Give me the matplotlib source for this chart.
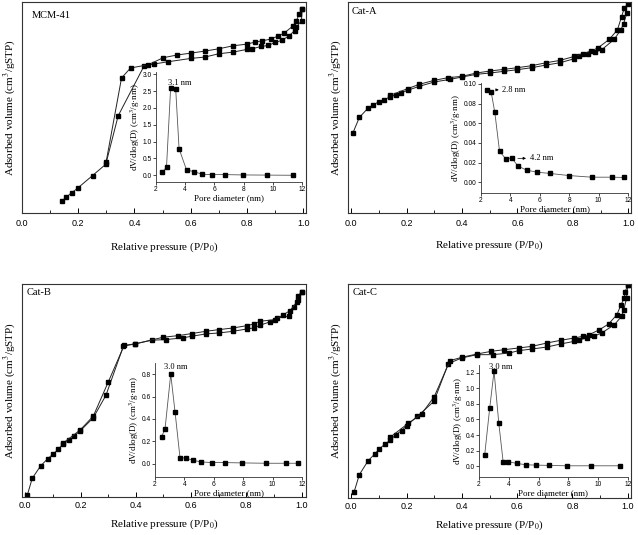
import matplotlib.pyplot as plt
from matplotlib.ticker import MultipleLocator

plt.rcParams['font.family'] = ['Liberation Serif', 'DejaVu Serif']
plt.rcParams['mathtext.fontset'] = 'stix'

# ---------------- data (arbitrary volume units) ----------------
# MCM-41
mcm_ads_p = [0.141, 0.156, 0.177, 0.198, 0.251, 0.298, 0.342, 0.434, 0.469, 0.520, 0.601, 0.650,
             0.700, 0.751, 0.799, 0.819, 0.850, 0.876, 0.899, 0.923, 0.948, 0.970, 0.976, 0.994, 0.996]
mcm_ads_v = [135, 147, 161, 175, 213, 247, 393, 543, 549, 556, 566, 570,
             580, 585, 593, 595, 602, 605, 614, 620, 633, 650, 660, 680, 715]
mcm_des_p = [0.996, 0.986, 0.976, 0.964, 0.932, 0.909, 0.884, 0.854, 0.828, 0.799, 0.751, 0.700,
             0.650, 0.601, 0.550, 0.502, 0.449, 0.386, 0.354, 0.299]
mcm_des_v = [715, 700, 680, 664, 642, 633, 624, 619, 615, 609, 604, 595,
             588, 582, 576, 568, 547, 537, 507, 253]
mcm_d = [2.42, 2.72, 3.00, 3.35, 3.58, 4.09, 4.58, 5.16, 5.85, 6.71, 7.94, 9.61, 11.36]
mcm_dv = [0.09, 0.24, 2.58, 2.56, 0.79, 0.16, 0.11, 0.03, 0.02, 0.02, 0.01, 0.005, 0.0]

# Cat-A
a_ads_p = [0.006, 0.029, 0.059, 0.077, 0.099, 0.119, 0.141, 0.162, 0.181, 0.204, 0.246, 0.300, 0.358,
           0.400, 0.452, 0.501, 0.551, 0.600, 0.651, 0.704, 0.754, 0.805, 0.823, 0.855, 0.879, 0.904,
           0.949, 0.973, 0.983, 0.995]
a_ads_v = [342, 388, 415, 425, 435, 442, 450, 457, 463, 470, 482, 495, 503,
           510, 518, 522, 527, 532, 538, 546, 553, 565, 572, 580, 585, 592,
           623, 652, 670, 702]
a_des_p = [0.998, 0.986, 0.976, 0.961, 0.931, 0.891, 0.865, 0.835, 0.805, 0.754, 0.704, 0.651,
           0.600, 0.551, 0.501, 0.452, 0.400, 0.350, 0.300, 0.246, 0.204, 0.141]
a_des_v = [730, 718, 692, 652, 623, 598, 588, 580, 572, 560, 553, 544,
           538, 533, 528, 522, 512, 508, 500, 488, 475, 455]
a_d = [2.41, 2.69, 2.94, 3.26, 3.67, 4.09, 4.52, 5.10, 5.81, 6.70, 7.96, 9.52, 10.94, 11.75]
a_dv = [0.0939, 0.092, 0.071, 0.0317, 0.0239, 0.0246, 0.0164, 0.0123, 0.0102, 0.0089, 0.0068,
        0.0051, 0.0051, 0.0048]

# Cat-B
b_ads_p = [0.007, 0.025, 0.055, 0.081, 0.099, 0.119, 0.135, 0.158, 0.176, 0.198, 0.246, 0.292, 0.355,
           0.397, 0.457, 0.508, 0.569, 0.602, 0.654, 0.702, 0.753, 0.803, 0.828, 0.849, 0.885, 0.912,
           0.953, 0.973, 0.988, 1.000]
b_ads_v = [105, 156, 193, 215, 228, 243, 258, 271, 283, 298, 338, 406, 553,
           560, 571, 573, 578, 583, 590, 593, 598, 605, 608, 616, 626, 638,
           643, 670, 693, 716]
b_des_p = [1.000, 0.986, 0.982, 0.958, 0.931, 0.904, 0.849, 0.828, 0.803, 0.753, 0.702, 0.654,
           0.602, 0.554, 0.499, 0.397, 0.358, 0.300, 0.246, 0.198, 0.135]
b_des_v = [716, 703, 685, 660, 646, 633, 628, 620, 615, 608, 603, 598,
           591, 585, 580, 560, 556, 445, 343, 301, 261]
b_d = [2.45, 2.68, 3.07, 3.36, 3.70, 4.11, 4.57, 5.14, 5.86, 6.73, 7.95, 9.55, 10.93, 11.73]
b_dv = [0.242, 0.307, 0.80, 0.466, 0.054, 0.048, 0.030, 0.015, 0.009, 0.009, 0.006, 0.003, 0.003, 0.003]

# Cat-C
c_ads_p = [0.010, 0.029, 0.061, 0.086, 0.101, 0.122, 0.140, 0.161, 0.182, 0.200, 0.239, 0.299, 0.351,
           0.399, 0.455, 0.512, 0.572, 0.605, 0.654, 0.708, 0.757, 0.807, 0.825, 0.853, 0.877, 0.906,
           0.952, 0.978, 0.986, 0.996, 1.000]
c_ads_v = [118, 170, 212, 233, 247, 262, 273, 290, 302, 317, 345, 390, 503,
           520, 530, 530, 535, 542, 547, 553, 562, 570, 575, 580, 585, 595,
           620, 645, 665, 700, 738]
c_des_p = [1.000, 0.990, 0.988, 0.976, 0.961, 0.931, 0.898, 0.861, 0.837, 0.807, 0.757, 0.708,
           0.654, 0.605, 0.554, 0.506, 0.455, 0.399, 0.357, 0.300, 0.254, 0.206, 0.140]
c_des_v = [738, 718, 700, 680, 650, 622, 605, 590, 585, 580, 573, 565,
           555, 550, 545, 540, 532, 522, 512, 404, 352, 324, 282]
c_d = [2.38, 2.72, 3.01, 3.33, 3.62, 3.96, 4.56, 5.15, 5.80, 6.70, 7.89, 9.53, 11.48]
c_dv = [0.14, 0.75, 1.22, 0.55, 0.056, 0.056, 0.034, 0.017, 0.013, 0.009, 0.004, 0.004, 0.004]

W, H = 638, 535
fig = plt.figure(figsize=(W / 100, H / 100), dpi=100)


def box(l, t, r, b):
    # pixel box -> figure fraction
    return [l / W, 1 - b / H, (r - l) / W, (b - t) / H]


def panel(mbox, ibox, name, name_xy, ads_p, ads_v, des_p, des_v, xlim, ylim,
          d, dv, ilim, istep, ifmt, tickpad, xlabpad):
    ax = fig.add_axes(box(*mbox))
    for p, v in [(ads_p, ads_v), (des_p, des_v)]:
        ax.plot(p, v, '-s', color='#222222', lw=0.7, ms=3.5, mfc='k', mec='k')
    ax.set_xlim(*xlim)
    ax.set_ylim(*ylim)
    ax.xaxis.set_minor_locator(MultipleLocator(0.1))
    ax.set_xticks([0.0, 0.2, 0.4, 0.6, 0.8, 1.0])
    ax.set_xticklabels(['0.0', '0.2', '0.4', '0.6', '0.8', '1.0'], family='Liberation Sans')
    ax.tick_params(axis='x', which='major', direction='in', length=3.5, width=0.7,
                   labelsize=6.5, pad=tickpad)
    ax.tick_params(axis='x', which='minor', direction='in', length=2, width=0.6)
    ax.tick_params(axis='y', left=False, labelleft=False)
    for s in ax.spines.values():
        s.set_linewidth(0.8)
        s.set_color('#333333')
    ax.set_xlabel('Relative pressure (P/P$_0$)', fontsize=8, labelpad=xlabpad)
    ax.set_ylabel('Adsorbed volume (cm$^3$/gSTP)', fontsize=8, labelpad=3)
    ax.text(name_xy[0], name_xy[1], name, transform=ax.transAxes, fontsize=7.5,
            ha='left', va='center')

    ins = fig.add_axes(box(*ibox))
    ins.patch.set_alpha(0)
    ins.plot(d, dv, '-s', color='#555555', lw=0.6, ms=2.2, mfc='k', mec='k')
    ins.set_xlim(2, 12)
    ins.set_ylim(*ilim)
    ins.set_xticks([2, 4, 6, 8, 10, 12])
    ins.yaxis.set_major_locator(MultipleLocator(istep))
    ins.yaxis.set_major_formatter(ifmt)
    ins.spines['top'].set_visible(False)
    ins.spines['right'].set_visible(False)
    for s in ['left', 'bottom']:
        ins.spines[s].set_linewidth(0.6)
        ins.spines[s].set_color('#333333')
    ins.tick_params(direction='out', length=2, width=0.5, labelsize=4.8, pad=1.2)
    for lab in ins.get_xticklabels() + ins.get_yticklabels():
        lab.set_family('Liberation Sans')
    ins.set_xlabel('Pore diameter (nm)', fontsize=6.5, labelpad=0.5)
    ins.set_ylabel('dV/dlog(D) (cm$^3$/g·nm)', fontsize=6.5, labelpad=0.5)
    return ax, ins


ax1, in1 = panel((22, 2, 306, 213), (156, 72, 302, 182), 'MCM-41', (0.034, 0.938),
                 mcm_ads_p, mcm_ads_v, mcm_des_p, mcm_des_v, (0, 1.01), (100, 736),
                 mcm_d, mcm_dv, (-0.2, 3.07), 0.5, '{x:.1f}', 4, 9)
in1.text(3.65, 2.74, '3.1 nm', fontsize=6, ha='center', va='center')

ax2, in2 = panel((348, 2, 631, 213), (481, 83, 628, 193), 'Cat-A', (0.012, 0.954),
                 a_ads_p, a_ads_v, a_des_p, a_des_v, (-0.012, 1.01), (100, 736),
                 a_d, a_dv, (-0.011, 0.101), 0.02, '{x:.2f}', 4, 8)
in2.annotate('', xy=(3.40, 0.094), xytext=(2.83, 0.094),
             arrowprops=dict(arrowstyle='-|>', lw=0.5, color='k', mutation_scale=4))
in2.text(3.45, 0.094, '2.8 nm', fontsize=6, ha='left', va='center')
in2.annotate('', xy=(5.25, 0.0243), xytext=(4.32, 0.0243),
             arrowprops=dict(arrowstyle='-|>', lw=0.5, color='k', mutation_scale=4))
in2.text(5.33, 0.0243, '4.2 nm', fontsize=6, ha='left', va='center')

ax3, in3 = panel((22, 284, 306, 497), (155, 363, 302, 477), 'Cat-B', (0.017, 0.958),
                 b_ads_p, b_ads_v, b_des_p, b_des_v, (-0.012, 1.016), (100, 740),
                 b_d, b_dv, (-0.12, 0.9), 0.2, '{x:.1f}', 3.2, 5)
in3.text(3.41, 0.866, '3.0 nm', fontsize=6, ha='center', va='center')

ax4, in4 = panel((348, 284, 631, 498), (479, 365, 628, 477), 'Cat-C', (0.018, 0.958),
                 c_ads_p, c_ads_v, c_des_p, c_des_v, (-0.012, 1.012), (100, 742),
                 c_d, c_dv, (-0.14, 1.3), 0.2, '{x:.1f}', 3.2, 5)
in4.text(3.44, 1.27, '3.0 nm', fontsize=6, ha='center', va='center')

fig.savefig('out.png', dpi=100)
